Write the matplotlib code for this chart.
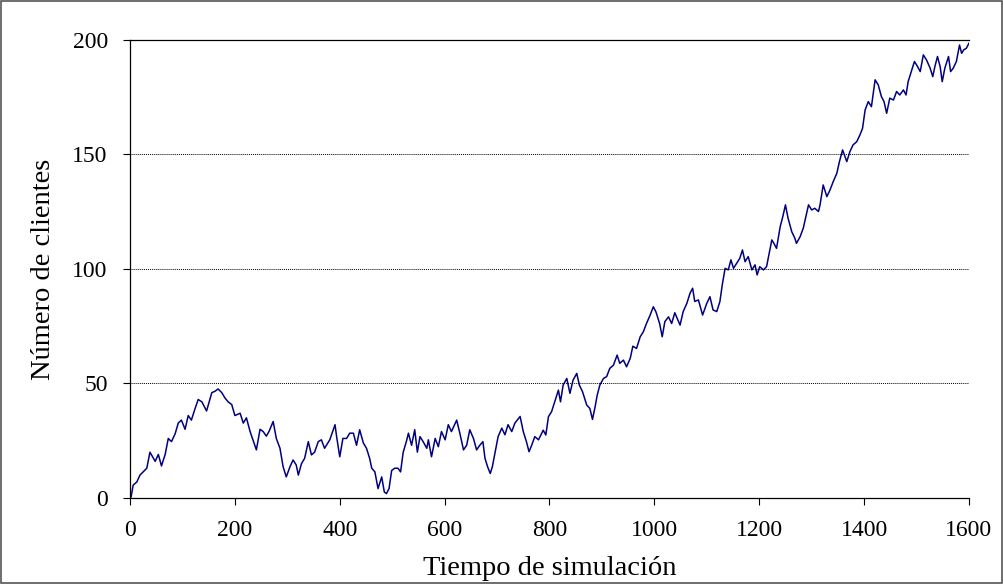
import matplotlib
matplotlib.use("Agg")
import matplotlib.pyplot as plt
from matplotlib.patches import Rectangle

# Valores (tiempo, número de clientes)
tiempo = [
    0, 2, 6, 13, 19, 25, 32, 38, 48, 54, 60, 67, 73, 79, 86, 92, 98, 105, 111,
    117, 124, 130, 137, 146, 156, 162, 168, 175, 181, 187, 194, 200, 210, 216,
    222, 229, 235, 241, 248, 254, 260, 265, 273, 279, 286, 292, 298, 305, 311,
    317, 321, 327, 333, 340, 346, 352, 359, 365, 371, 381, 391, 394, 400, 406,
    413, 419, 426, 432, 438, 445, 451, 457, 461, 467, 473, 480, 485, 489, 494,
    499, 505, 511, 516, 521, 527, 531, 537, 543, 548, 553, 559, 566, 569, 575,
    582, 588, 594, 601, 607, 613, 623, 629, 636, 642, 648, 655, 661, 667, 673,
    677, 682, 687, 691, 696, 702, 709, 715, 721, 728, 734, 744, 750, 756, 761,
    766, 772, 779, 788, 793, 798, 804, 811, 817, 821, 826, 833, 839, 845, 852,
    857, 863, 871, 877, 882, 887, 891, 896, 903, 909, 915, 922, 929, 934, 941,
    947, 954, 959, 966, 973, 979, 985, 992, 998, 1003, 1010, 1015, 1020, 1027,
    1033, 1039, 1049, 1055, 1062, 1068, 1073, 1077, 1084, 1092, 1100, 1106,
    1112, 1119, 1125, 1130, 1135, 1141, 1146, 1151, 1157, 1163, 1168, 1173,
    1179, 1186, 1192, 1196, 1201, 1208, 1214, 1219, 1224, 1228, 1233, 1240,
    1245, 1250, 1255, 1262, 1268, 1271, 1278, 1284, 1289, 1294, 1300, 1306,
    1313, 1316, 1322, 1329, 1335, 1341, 1348, 1353, 1359, 1367, 1373, 1379,
    1386, 1392, 1397, 1402, 1408, 1414, 1421, 1427, 1433, 1438, 1443, 1449,
    1456, 1462, 1468, 1475, 1480, 1484, 1491, 1496, 1502, 1507, 1513, 1519,
    1526, 1531, 1535, 1540, 1545, 1549, 1554, 1561, 1565, 1570, 1576, 1582,
    1586, 1590, 1595, 1600,
]
clientes = [
    0, 0.4, 5.6, 7, 10, 11.4, 13, 20, 16, 19, 14, 19, 26, 24.6, 28, 32.7, 34,
    30, 36, 34, 39, 43, 42, 38, 46, 46.6, 47.6, 46, 43.7, 42, 40.8, 36, 37,
    32.7, 35, 29, 25, 21, 30, 29, 27, 29, 33.4, 26, 21.7, 13.6, 9.2, 13.6,
    16.6, 14.4, 10, 15, 17.3, 24.6, 18.8, 20, 24.6, 25.4, 21.7, 25.4, 32,
    26.8, 18, 26, 26, 28.3, 28.3, 23, 29.8, 24, 21.7, 17.3, 13, 11.4, 4.1,
    9.2, 2.6, 1.9, 4.1, 12, 13, 13, 11.4, 20, 24.6, 28.3, 23, 29.8, 20, 26.8,
    24.6, 21.7, 25.4, 18, 26, 22.4, 29, 25.4, 32, 29, 34, 28.3, 21, 23, 29.8,
    26, 21, 23, 24.6, 17.3, 13.6, 10.7, 13.6, 19.5, 26.8, 30.5, 27.6, 32, 29,
    32.7, 35.6, 29, 24.6, 20.2, 23, 26.8, 25.4, 29.6, 27.5, 35.5, 37.7, 42.7,
    47.1, 42, 49.3, 52.2, 45.7, 51.5, 54.4, 49.3, 46.4, 40.6, 39.1, 34.3,
    39.8, 44.9, 49.3, 52.2, 53, 56.6, 58, 62.4, 58.8, 60.2, 57.3, 61, 66.3,
    65.3, 70.4, 72.6, 76.2, 79.9, 83.5, 81.3, 76.2, 70.4, 77, 79.1, 76.2,
    80.9, 75.5, 81.4, 85, 89.4, 91.6, 85.8, 86.5, 79.9, 85, 87.9, 82.1, 81.4,
    85.8, 93.8, 100.3, 99.6, 104, 100.3, 102.5, 104.7, 108.3, 103.2, 105.4,
    99.6, 101.8, 97.4, 101, 99.6, 101, 106.9, 112.7, 111.2, 109, 118.5, 122.9,
    128, 122.2, 116.3, 113.4, 111.2, 114.1, 117.8, 122.9, 128, 125.8, 126.5,
    125.1, 128, 136.7, 131.6, 134.5, 138.1, 141.8, 146.9, 152, 146.9, 151.3,
    154.2, 155.6, 158.5, 161.4, 169.5, 173.1, 170.9, 182.6, 180.4, 175.3,
    173.1, 168, 174.6, 173.8, 177.5, 176, 178.2, 176, 181.8, 186.9, 190.6,
    188.4, 186.2, 193.5, 191.3, 187.7, 184, 188.4, 192.8, 188.4, 181.8, 187.7,
    192.8, 186.2, 187.7, 190.6, 197.8, 194.2, 195.7, 196.4, 198.6,
]
xticks = [0, 200, 400, 600, 800, 1000, 1200, 1400, 1600]
yticks = [0, 50, 100, 150, 200]

plt.rcParams['font.family'] = ['Liberation Serif', 'DejaVu Serif']

fig = plt.figure(figsize=(10.04, 5.84), dpi=100)
ax = fig.add_axes([0.1295, 0.1473, 0.8356, 0.7842])

ax.plot(tiempo, clientes, color='#000080', linewidth=1.1)

ax.set_xlim(0, 1600)
ax.set_ylim(0, 200)
ax.set_xticks(xticks)
ax.set_yticks(yticks)
ax.tick_params(labelsize=17, direction='out', length=5, width=0.8, pad=11)

# Líneas de división punteadas
for y in yticks[1:-1]:
    ax.axhline(y, color='black', linestyle=(0, (1, 1)), linewidth=0.7)

ax.spines['right'].set_visible(False)
for s in ('left', 'bottom', 'top'):
    ax.spines[s].set_linewidth(0.9)

ax.set_xlabel('Tiempo de simulación', fontsize=20.5, labelpad=11)
ax.set_ylabel('Número de clientes', fontsize=20.5, labelpad=12)

# Borde exterior del gráfico
fig.patches.append(Rectangle((0.001, 0.001), 0.997, 0.997, transform=fig.transFigure,
                             fill=False, edgecolor='#555555', linewidth=1.2))

fig.savefig('out.png', dpi=100)
